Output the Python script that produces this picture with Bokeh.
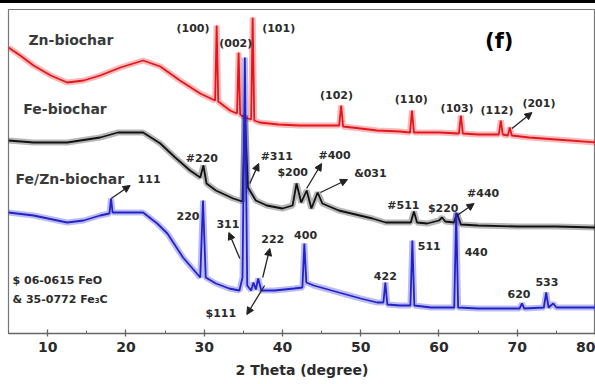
from bokeh.plotting import figure
from bokeh.models import ColumnDataSource, Arrow, NormalHead, Div, FixedTicker
from bokeh.layouts import column
from bokeh.core.properties import value
from bokeh.embed import file_html
from bokeh.resources import INLINE

# ---------------- data (2 theta in degrees, intensity in a.u., stacked) ----------------
zn_2theta = [5.0, 6.5, 8.2, 10.4, 12.5, 14.6, 16.7, 19.3, 22.2, 24.4, 26.9, 29.5, 31.4, 31.6, 31.8,
             33.3, 34.2, 34.4, 34.6, 35.2, 36.0, 36.2, 36.4, 37.1, 39.5, 42.2, 45.0, 47.25, 47.5, 47.75,
             50.0, 52.1, 55.0, 56.3, 56.55, 56.8, 60.0, 62.55, 62.8, 63.05, 65.0, 67.65, 67.9, 68.15,
             68.8, 69.05, 69.3, 71.5, 75.0, 80.0]
zn_int = [286, 278, 268, 258, 251, 253, 258, 266, 273, 267, 253, 240, 233, 308, 232,
          223, 220, 281, 219, 216, 214, 316, 213, 211, 209, 208, 208, 208, 228, 207,
          205, 203, 202, 201, 223, 201, 201, 200, 218, 200, 199, 199, 213, 199,
          198, 206, 198, 196, 194, 191]

fe_2theta = [5.0, 8.2, 12.5, 16.7, 19.0, 22.2, 24.4, 26.3, 28.2, 29.5, 29.9, 30.3, 31.5, 33.7, 34.9,
             35.2, 35.6, 36.6, 38.0, 40.0, 41.3, 41.8, 42.4, 43.1, 43.7, 44.5, 45.1, 47.2, 51.5, 53.2,
             56.4, 56.8, 57.2, 58.5, 60.0, 60.4, 60.8, 61.9, 62.3, 62.8, 65.0, 70.0, 75.0, 80.0]
fe_int = [193, 191, 191, 196, 201, 201, 190, 176, 163, 156, 168, 150, 143, 135, 132,
          218, 146, 133, 128, 125, 128, 150, 131, 143, 125, 141, 130, 123, 115, 111,
          111, 122, 111, 110, 113, 116, 112, 111, 120, 109, 108, 107, 107, 106]

fezn_2theta = [5.0, 8.2, 12.5, 14.6, 16.7, 17.9, 18.1, 18.3, 19.5, 22.2, 24.0, 25.3, 27.3, 29.5, 29.85,
               30.2, 31.5, 33.2, 34.5, 34.9, 35.2, 35.5, 36.0, 36.3, 36.6, 36.9, 37.3, 39.0, 41.5, 42.55,
               42.8, 43.05, 44.0, 47.2, 50.0, 52.1, 52.9, 53.15, 53.4, 55.0, 56.35, 56.6, 56.85, 59.0,
               61.95, 62.2, 62.45, 65.0, 70.3, 70.6, 70.9, 73.4, 73.7, 74.0, 74.6, 75.0, 80.0]
fezn_int = [121, 118, 111, 113, 118, 120, 135, 121, 121, 121, 110, 100, 76, 56, 133,
            56, 50, 45, 43, 56, 276, 48, 43, 51, 44, 55, 43, 43, 45, 46,
            90, 51, 48, 41, 35, 31, 31, 51, 29, 28, 28, 93, 28, 26,
            26, 121, 26, 25, 25, 30, 25, 26, 41, 26, 30, 26, 26]

x_ticks = [10, 20, 30, 40, 50, 60, 70, 80]
x_title = "2 Theta (degree)"

peak_labels = ["(100)", "(002)", "(101)", "(102)", "(110)", "(103)", "(112)", "(201)",
               "#220", "#311", "$200", "#400", "&031", "#511", "$220", "#440", "111",
               "220", "311", "222", "$111", "400", "422", "511", "440", "620", "533"]
peak_label_x = [28.57, 34.04, 39.52, 46.91, 56.46, 62.32, 67.42, 72.77,
                29.71, 39.27, 41.31, 46.66, 51.24, 55.45, 60.54, 65.64, 22.96,
                27.93, 33.03, 38.76, 32.13, 42.96, 53.15, 58.76, 64.75, 70.22, 73.79]
peak_label_y = [305, 290, 305, 238, 234, 225, 223, 230,
                175, 177, 161, 178, 160, 128, 125, 140, 155,
                118, 110, 95, 20, 99, 58, 88, 82, 40, 52]

series_names = ["Zn-biochar", "Fe-biochar", "Fe/Zn-biochar"]
series_name_x = [7.55, 6.9, 5.9]
series_name_y = [294, 225, 155]

ref_texts = ["$ 06-0615 FeO", "& 35-0772 Fe\u2083C"]
ref_x = [5.51, 5.51]
ref_y = [53, 34]

arrow_x0 = [69.33, 18.12, 35.83, 43.09, 44.87, 62.32, 34.55, 37.48, 37.72]
arrow_y0 = [205, 135, 150, 145, 141, 118, 75, 56, 48]
arrow_x1 = [71.88, 20.54, 36.97, 45.00, 48.31, 64.49, 33.15, 38.38, 35.45]
arrow_y1 = [221, 148, 170, 170, 154, 130, 101, 85, 19]

# ---------------- figure ----------------
FONT = "DejaVu Sans"
TXT = "#2b2b2b"

p = figure(width=595, height=381, x_range=(5, 80), y_range=(0, 324),
           output_backend="svg", toolbar_location=None,
           min_border_left=8, min_border_right=0, min_border_top=6, min_border_bottom=51)
p.grid.visible = False
p.yaxis.visible = False
p.outline_line_color = "#777777"
p.outline_line_width = 1.2
p.background_fill_color = "white"
p.border_fill_color = "white"

xa = p.xaxis[0]
xa.ticker = FixedTicker(ticks=x_ticks, minor_ticks=[x + 5 for x in range(0, 80, 10)])
xa.axis_line_color = "#666666"
xa.axis_line_width = 1.5
xa.major_tick_in = 4
xa.major_tick_out = 3
xa.minor_tick_in = 3
xa.minor_tick_out = 0
xa.major_tick_line_color = "#666666"
xa.minor_tick_line_color = "#666666"
xa.major_tick_line_width = 1.3
xa.major_label_text_font = FONT
xa.major_label_text_font_style = "bold"
xa.major_label_text_font_size = "14px"
xa.major_label_text_color = TXT
xa.major_label_standoff = 5
xa.axis_label = x_title
xa.axis_label_text_font = FONT
xa.axis_label_text_font_style = "bold"
xa.axis_label_text_font_size = "14px"
xa.axis_label_text_color = TXT
xa.axis_label_standoff = 7

for xs, ys, col in [(zn_2theta, zn_int, "#e5161b"),
                    (fe_2theta, fe_int, "#111111"),
                    (fezn_2theta, fezn_int, "#2222cc")]:
    src = ColumnDataSource(dict(x=xs, y=ys))
    p.line("x", "y", source=src, line_color=col, line_width=6, line_alpha=0.3)
    p.line("x", "y", source=src, line_color=col, line_width=1.8)

p.text(x=peak_label_x, y=peak_label_y, text=peak_labels,
       text_font=value(FONT), text_font_style="bold", text_font_size="11px",
       text_color=TXT, text_align="center", text_baseline="middle")
p.text(x=series_name_x, y=series_name_y, text=series_names,
       text_font=value(FONT), text_font_style="bold", text_font_size="14px",
       text_color="#3a3a3a", text_align="left", text_baseline="middle")
p.text(x=ref_x, y=ref_y, text=ref_texts,
       text_font=value(FONT), text_font_style="bold", text_font_size="11px",
       text_color=TXT, text_align="left", text_baseline="middle")
p.text(x=[67.7], y=[293], text=["(f)"],
       text_font=value(FONT), text_font_style="bold", text_font_size="21px",
       text_color="#000000", text_align="center", text_baseline="middle")

arrow_src = ColumnDataSource(dict(x0=arrow_x0, y0=arrow_y0, x1=arrow_x1, y1=arrow_y1))
p.add_layout(Arrow(source=arrow_src, x_start="x0", y_start="y0", x_end="x1", y_end="y1",
                   line_color="#222222", line_width=1.3,
                   end=NormalHead(size=7, fill_color="#222222", line_color="#222222")))

bar = Div(text="", width=595, height=3, margin=(0, 0, 0, 0),
          styles={"background-color": "#000000", "overflow": "hidden", "line-height": "0"})
layout = column(bar, p, spacing=0, margin=(0, 0, 0, 0))

open("out.html", "w").write(file_html(layout, INLINE))
